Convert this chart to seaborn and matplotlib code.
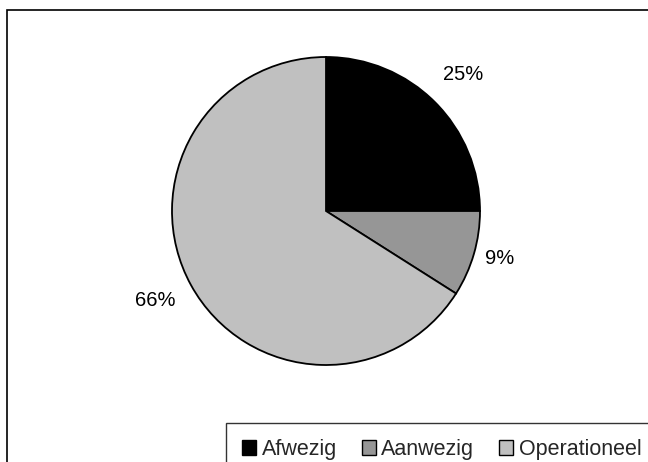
import matplotlib
matplotlib.use("Agg")
import matplotlib.pyplot as plt
import seaborn as sns
from matplotlib.patches import Rectangle

categories = ["Afwezig", "Aanwezig", "Operationeel"]
values = [25, 9, 66]
colors = ["#000000", "#969696", "#C0C0C0"]

sns.set_style("white")
plt.rcParams['font.family'] = ['Liberation Sans', 'DejaVu Sans']

FS = 14.5
LFS = 15.5
W, H = 648, 462
fig = plt.figure(figsize=(W / 100, H / 100), dpi=100)
ax = fig.add_axes([0, 0, 1, 1])

wedges, texts, autotexts = ax.pie(
    values, colors=colors, startangle=90, counterclock=False,
    center=(326, H - 211), radius=154,
    autopct='%d%%', pctdistance=1.24,
    wedgeprops=dict(edgecolor='black', linewidth=1.3),
    textprops=dict(fontsize=FS, color='black'),
    frame=True,
)
ax.set_xlim(0, W)
ax.set_ylim(0, H)
ax.set_aspect('equal')
ax.axis('off')
autotexts[0].set_position((463, H - 75))
autotexts[1].set_position((500, H - 258))
autotexts[2].set_position((155, H - 300))

# figure border
fig.patches.append(Rectangle((7 / W, -0.1), 1.2, (H - 10) / H + 0.1,
                             transform=fig.transFigure, fill=False,
                             edgecolor='black', linewidth=1.2))

leg = fig.legend(wedges, categories, loc='upper left',
                 bbox_to_anchor=(226 / W, 1 - 423 / H), ncol=3,
                 frameon=True, fancybox=False, edgecolor='black',
                 fontsize=LFS, handlelength=0.66, handleheight=0.66,
                 handletextpad=0.25, columnspacing=1.15, borderpad=0.75,
                 borderaxespad=0)
leg.get_frame().set_linewidth(1.0)
for h in leg.legend_handles:
    h.set_edgecolor('black')
    h.set_linewidth(1.0)

fig.savefig("out.png", dpi=100)
